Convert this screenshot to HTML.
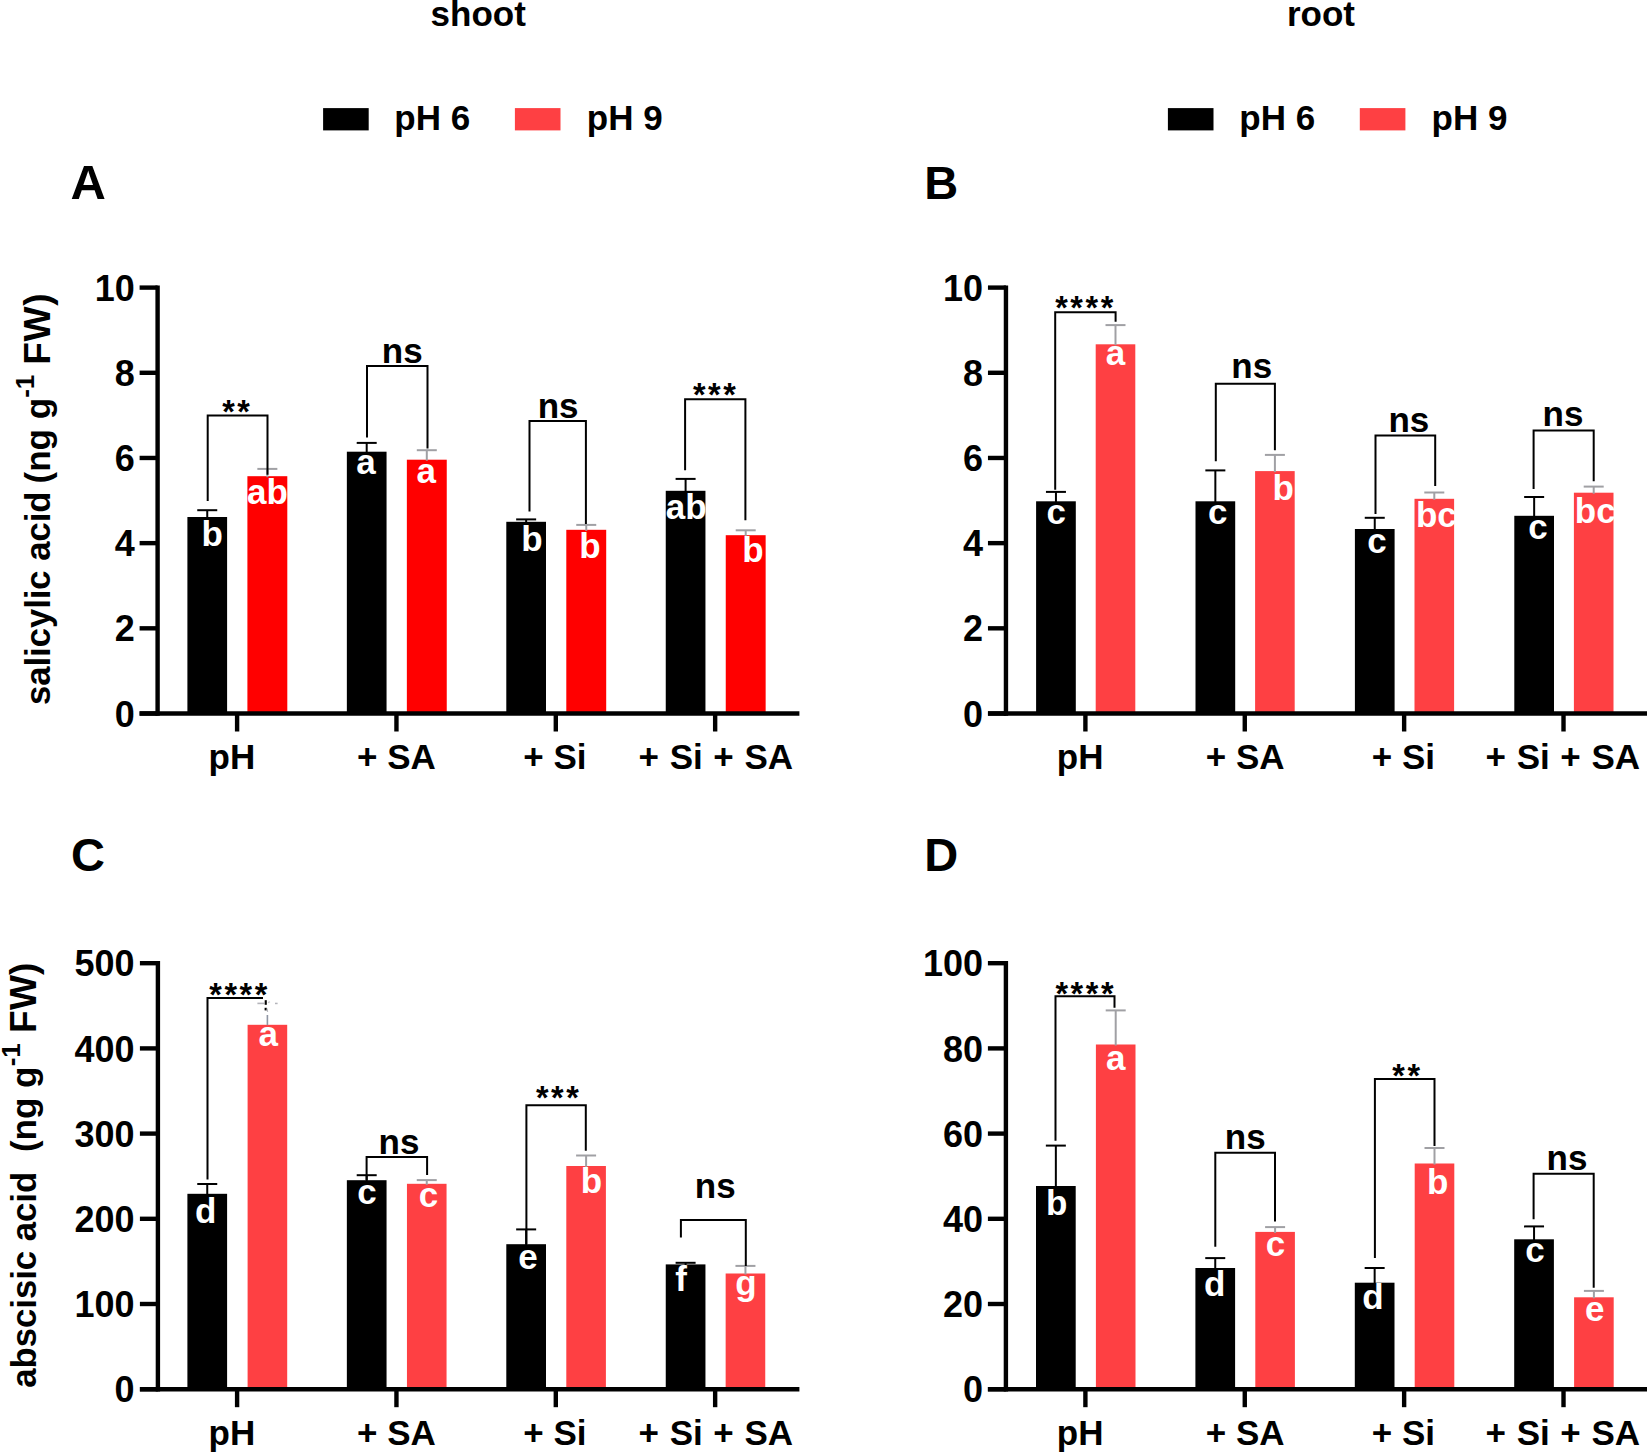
<!DOCTYPE html>
<html lang="en">
<head>
<meta charset="utf-8">
<title>Salicylic acid and abscisic acid in shoot and root</title>
<style>
html,body{margin:0;padding:0;background:#fff;}
body{width:1647px;height:1452px;overflow:hidden;}
svg{display:block;}
svg text{font-family:"Liberation Sans",sans-serif;font-weight:bold;}
</style>
</head>
<body>
<svg width="1647" height="1452" viewBox="0 0 1647 1452" shape-rendering="auto">
<rect x="0" y="0" width="1647" height="1452" fill="#fff"/>
<text x="478.20" y="26.20" font-size="35" fill="#000" text-anchor="middle">shoot</text>
<text x="1321.00" y="26.20" font-size="35" fill="#000" text-anchor="middle">root</text>
<rect x="323.10" y="108.10" width="45.60" height="22.30" fill="#000"/>
<rect x="514.90" y="108.10" width="45.60" height="22.30" fill="#FE4043"/>
<text x="432.30" y="129.90" font-size="35" fill="#000" text-anchor="middle">pH 6</text>
<text x="624.70" y="129.90" font-size="35" fill="#000" text-anchor="middle">pH 9</text>
<rect x="1167.90" y="108.10" width="45.60" height="22.30" fill="#000"/>
<rect x="1359.80" y="108.10" width="45.60" height="22.30" fill="#FE4043"/>
<text x="1277.20" y="129.90" font-size="35" fill="#000" text-anchor="middle">pH 6</text>
<text x="1469.50" y="129.90" font-size="35" fill="#000" text-anchor="middle">pH 9</text>
<text x="88.20" y="198.50" font-size="49" fill="#000" text-anchor="middle">A</text>
<text x="941.30" y="198.50" font-size="47" fill="#000" text-anchor="middle">B</text>
<text x="88.00" y="871.30" font-size="47" fill="#000" text-anchor="middle">C</text>
<text x="941.30" y="871.30" font-size="47" fill="#000" text-anchor="middle">D</text>
<text transform="translate(49.60,704.00) rotate(-90)" y="0" text-anchor="start"><tspan x="-1.00" dy="0.00" font-size="34.6">salicylic acid</tspan> <tspan x="220.50" dy="0.00" font-size="35">(ng g</tspan><tspan x="306.20" dy="-16.10" font-size="26">-1</tspan> <tspan x="339.30" dy="16.10" font-size="37" letter-spacing="0.7">FW)</tspan></text>
<text transform="translate(35.90,1386.80) rotate(-90)" y="0" text-anchor="start"><tspan x="-1.00" dy="0.00" font-size="34.7">abscisic acid</tspan> <tspan x="234.70" dy="0.00" font-size="35">(ng g</tspan><tspan x="320.50" dy="-15.90" font-size="26">-1</tspan> <tspan x="353.80" dy="15.90" font-size="37" letter-spacing="0.3">FW)</tspan></text>
<rect x="187.40" y="517.00" width="39.70" height="196.50" fill="#000"/>
<rect x="247.40" y="476.20" width="39.90" height="237.30" fill="#FF0000"/>
<rect x="346.85" y="451.70" width="39.70" height="261.80" fill="#000"/>
<rect x="406.85" y="459.70" width="39.90" height="253.80" fill="#FF0000"/>
<rect x="506.30" y="521.80" width="39.70" height="191.70" fill="#000"/>
<rect x="566.30" y="529.80" width="39.90" height="183.70" fill="#FF0000"/>
<rect x="665.75" y="490.80" width="39.70" height="222.70" fill="#000"/>
<rect x="725.75" y="535.20" width="39.90" height="178.30" fill="#FF0000"/>
<line x1="157.60" y1="285.40" x2="157.60" y2="715.70" stroke="#000" stroke-width="4.4"/>
<line x1="139.60" y1="713.50" x2="799.40" y2="713.50" stroke="#000" stroke-width="4.4"/>
<line x1="139.60" y1="713.50" x2="157.60" y2="713.50" stroke="#000" stroke-width="4.4"/>
<text x="134.70" y="726.60" font-size="36" fill="#000" text-anchor="end">0</text>
<line x1="139.60" y1="628.32" x2="157.60" y2="628.32" stroke="#000" stroke-width="4.4"/>
<text x="134.70" y="641.42" font-size="36" fill="#000" text-anchor="end">2</text>
<line x1="139.60" y1="543.14" x2="157.60" y2="543.14" stroke="#000" stroke-width="4.4"/>
<text x="134.70" y="556.24" font-size="36" fill="#000" text-anchor="end">4</text>
<line x1="139.60" y1="457.96" x2="157.60" y2="457.96" stroke="#000" stroke-width="4.4"/>
<text x="134.70" y="471.06" font-size="36" fill="#000" text-anchor="end">6</text>
<line x1="139.60" y1="372.78" x2="157.60" y2="372.78" stroke="#000" stroke-width="4.4"/>
<text x="134.70" y="385.88" font-size="36" fill="#000" text-anchor="end">8</text>
<line x1="139.60" y1="287.60" x2="157.60" y2="287.60" stroke="#000" stroke-width="4.4"/>
<text x="134.70" y="300.70" font-size="36" fill="#000" text-anchor="end">10</text>
<line x1="237.10" y1="713.50" x2="237.10" y2="731.50" stroke="#000" stroke-width="4.4"/>
<text x="231.90" y="768.70" font-size="35" fill="#000" text-anchor="middle">pH</text>
<line x1="396.45" y1="713.50" x2="396.45" y2="731.50" stroke="#000" stroke-width="4.4"/>
<text x="396.45" y="768.70" font-size="35" fill="#000" text-anchor="middle">+ SA</text>
<line x1="555.80" y1="713.50" x2="555.80" y2="731.50" stroke="#000" stroke-width="4.4"/>
<text x="554.90" y="768.70" font-size="35" fill="#000" text-anchor="middle">+ Si</text>
<line x1="715.15" y1="713.50" x2="715.15" y2="731.50" stroke="#000" stroke-width="4.4"/>
<text x="715.85" y="768.70" font-size="35" fill="#000" text-anchor="middle" style="word-spacing:0.9px">+ Si + SA</text>
<line x1="207.25" y1="510.20" x2="207.25" y2="518.00" stroke="#000" stroke-width="2.0"/>
<line x1="197.25" y1="510.20" x2="217.25" y2="510.20" stroke="#000" stroke-width="2.0"/>
<line x1="267.35" y1="468.90" x2="267.35" y2="477.20" stroke="#A0A0A4" stroke-width="2.0"/>
<line x1="257.35" y1="468.90" x2="277.35" y2="468.90" stroke="#A0A0A4" stroke-width="2.0"/>
<polyline points="207.70,501.10 207.70,415.50 267.50,415.50 267.50,474.70" fill="none" stroke="#000" stroke-width="2.0" stroke-linejoin="miter"/>
<text x="237.30" y="423.20" font-size="32.3" fill="#000" text-anchor="middle" letter-spacing="2.6">**</text>
<text x="212.30" y="545.80" font-size="35" fill="#fff" text-anchor="middle">b</text>
<text x="267.50" y="503.90" font-size="35" fill="#fff" text-anchor="middle">ab</text>
<line x1="366.70" y1="442.90" x2="366.70" y2="452.70" stroke="#000" stroke-width="2.0"/>
<line x1="356.70" y1="442.90" x2="376.70" y2="442.90" stroke="#000" stroke-width="2.0"/>
<line x1="426.80" y1="450.20" x2="426.80" y2="460.70" stroke="#A0A0A4" stroke-width="2.0"/>
<line x1="416.80" y1="450.20" x2="436.80" y2="450.20" stroke="#A0A0A4" stroke-width="2.0"/>
<polyline points="367.00,437.50 367.00,365.90 427.50,365.90 427.50,448.40" fill="none" stroke="#000" stroke-width="2.0" stroke-linejoin="miter"/>
<text x="402.30" y="363.30" font-size="35" fill="#000" text-anchor="middle">ns</text>
<text x="366.00" y="473.90" font-size="35" fill="#fff" text-anchor="middle">a</text>
<text x="426.20" y="482.90" font-size="35" fill="#fff" text-anchor="middle">a</text>
<line x1="526.15" y1="519.40" x2="526.15" y2="522.80" stroke="#000" stroke-width="2.0"/>
<line x1="516.15" y1="519.40" x2="536.15" y2="519.40" stroke="#000" stroke-width="2.0"/>
<line x1="586.25" y1="524.90" x2="586.25" y2="530.80" stroke="#A0A0A4" stroke-width="2.0"/>
<line x1="576.25" y1="524.90" x2="596.25" y2="524.90" stroke="#A0A0A4" stroke-width="2.0"/>
<polyline points="529.50,511.60 529.50,421.10 585.90,421.10 585.90,524.00" fill="none" stroke="#000" stroke-width="2.0" stroke-linejoin="miter"/>
<text x="558.10" y="418.30" font-size="35" fill="#000" text-anchor="middle">ns</text>
<text x="531.90" y="551.40" font-size="35" fill="#fff" text-anchor="middle">b</text>
<text x="589.90" y="557.60" font-size="35" fill="#fff" text-anchor="middle">b</text>
<line x1="685.60" y1="478.90" x2="685.60" y2="491.80" stroke="#000" stroke-width="2.0"/>
<line x1="675.60" y1="478.90" x2="695.60" y2="478.90" stroke="#000" stroke-width="2.0"/>
<line x1="745.70" y1="530.30" x2="745.70" y2="536.20" stroke="#A0A0A4" stroke-width="2.0"/>
<line x1="735.70" y1="530.30" x2="755.70" y2="530.30" stroke="#A0A0A4" stroke-width="2.0"/>
<polyline points="685.10,470.20 685.10,399.20 745.40,399.20 745.40,520.30" fill="none" stroke="#000" stroke-width="2.0" stroke-linejoin="miter"/>
<text x="715.70" y="405.90" font-size="32.3" fill="#000" text-anchor="middle" letter-spacing="2.6">***</text>
<text x="686.20" y="518.80" font-size="35" fill="#fff" text-anchor="middle">ab</text>
<text x="752.90" y="562.20" font-size="35" fill="#fff" text-anchor="middle">b</text>
<rect x="1036.10" y="501.30" width="39.70" height="212.20" fill="#000"/>
<rect x="1095.70" y="344.30" width="39.60" height="369.20" fill="#FE4043"/>
<rect x="1195.50" y="501.30" width="39.70" height="212.20" fill="#000"/>
<rect x="1255.10" y="471.10" width="39.60" height="242.40" fill="#FE4043"/>
<rect x="1354.90" y="529.00" width="39.70" height="184.50" fill="#000"/>
<rect x="1414.50" y="498.80" width="39.60" height="214.70" fill="#FE4043"/>
<rect x="1514.30" y="515.80" width="39.70" height="197.70" fill="#000"/>
<rect x="1573.90" y="492.70" width="39.60" height="220.80" fill="#FE4043"/>
<line x1="1005.95" y1="285.40" x2="1005.95" y2="715.70" stroke="#000" stroke-width="4.4"/>
<line x1="987.95" y1="713.50" x2="1660.00" y2="713.50" stroke="#000" stroke-width="4.4"/>
<line x1="987.95" y1="713.50" x2="1005.95" y2="713.50" stroke="#000" stroke-width="4.4"/>
<text x="983.00" y="726.60" font-size="36" fill="#000" text-anchor="end">0</text>
<line x1="987.95" y1="628.32" x2="1005.95" y2="628.32" stroke="#000" stroke-width="4.4"/>
<text x="983.00" y="641.42" font-size="36" fill="#000" text-anchor="end">2</text>
<line x1="987.95" y1="543.14" x2="1005.95" y2="543.14" stroke="#000" stroke-width="4.4"/>
<text x="983.00" y="556.24" font-size="36" fill="#000" text-anchor="end">4</text>
<line x1="987.95" y1="457.96" x2="1005.95" y2="457.96" stroke="#000" stroke-width="4.4"/>
<text x="983.00" y="471.06" font-size="36" fill="#000" text-anchor="end">6</text>
<line x1="987.95" y1="372.78" x2="1005.95" y2="372.78" stroke="#000" stroke-width="4.4"/>
<text x="983.00" y="385.88" font-size="36" fill="#000" text-anchor="end">8</text>
<line x1="987.95" y1="287.60" x2="1005.95" y2="287.60" stroke="#000" stroke-width="4.4"/>
<text x="983.00" y="300.70" font-size="36" fill="#000" text-anchor="end">10</text>
<line x1="1085.40" y1="713.50" x2="1085.40" y2="731.50" stroke="#000" stroke-width="4.4"/>
<text x="1080.20" y="768.70" font-size="35" fill="#000" text-anchor="middle">pH</text>
<line x1="1244.77" y1="713.50" x2="1244.77" y2="731.50" stroke="#000" stroke-width="4.4"/>
<text x="1245.17" y="768.70" font-size="35" fill="#000" text-anchor="middle">+ SA</text>
<line x1="1404.14" y1="713.50" x2="1404.14" y2="731.50" stroke="#000" stroke-width="4.4"/>
<text x="1403.44" y="768.70" font-size="35" fill="#000" text-anchor="middle">+ Si</text>
<line x1="1563.51" y1="713.50" x2="1563.51" y2="731.50" stroke="#000" stroke-width="4.4"/>
<text x="1562.81" y="768.70" font-size="35" fill="#000" text-anchor="middle" style="word-spacing:0.9px">+ Si + SA</text>
<line x1="1055.95" y1="491.90" x2="1055.95" y2="502.30" stroke="#000" stroke-width="2.0"/>
<line x1="1045.95" y1="491.90" x2="1065.95" y2="491.90" stroke="#000" stroke-width="2.0"/>
<line x1="1115.50" y1="325.10" x2="1115.50" y2="345.30" stroke="#A0A0A4" stroke-width="2.0"/>
<line x1="1105.50" y1="325.10" x2="1125.50" y2="325.10" stroke="#A0A0A4" stroke-width="2.0"/>
<polyline points="1055.20,489.70 1055.20,312.30 1115.60,312.30 1115.60,321.70" fill="none" stroke="#000" stroke-width="2.0" stroke-linejoin="miter"/>
<text x="1085.50" y="319.10" font-size="32.3" fill="#000" text-anchor="middle" letter-spacing="2.6">****</text>
<text x="1056.20" y="524.00" font-size="35" fill="#fff" text-anchor="middle">c</text>
<text x="1115.50" y="365.10" font-size="35" fill="#fff" text-anchor="middle">a</text>
<line x1="1215.35" y1="470.40" x2="1215.35" y2="502.30" stroke="#000" stroke-width="2.0"/>
<line x1="1205.35" y1="470.40" x2="1225.35" y2="470.40" stroke="#000" stroke-width="2.0"/>
<line x1="1274.90" y1="454.90" x2="1274.90" y2="472.10" stroke="#A0A0A4" stroke-width="2.0"/>
<line x1="1264.90" y1="454.90" x2="1284.90" y2="454.90" stroke="#A0A0A4" stroke-width="2.0"/>
<polyline points="1215.80,461.30 1215.80,383.70 1274.90,383.70 1274.90,450.30" fill="none" stroke="#000" stroke-width="2.0" stroke-linejoin="miter"/>
<text x="1251.80" y="377.80" font-size="35" fill="#000" text-anchor="middle">ns</text>
<text x="1217.80" y="524.00" font-size="35" fill="#fff" text-anchor="middle">c</text>
<text x="1283.20" y="499.50" font-size="35" fill="#fff" text-anchor="middle">b</text>
<line x1="1374.75" y1="517.80" x2="1374.75" y2="530.00" stroke="#000" stroke-width="2.0"/>
<line x1="1364.75" y1="517.80" x2="1384.75" y2="517.80" stroke="#000" stroke-width="2.0"/>
<line x1="1434.30" y1="492.50" x2="1434.30" y2="499.80" stroke="#A0A0A4" stroke-width="2.0"/>
<line x1="1424.30" y1="492.50" x2="1444.30" y2="492.50" stroke="#A0A0A4" stroke-width="2.0"/>
<polyline points="1375.50,514.10 1375.50,435.40 1435.20,435.40 1435.20,486.10" fill="none" stroke="#000" stroke-width="2.0" stroke-linejoin="miter"/>
<text x="1408.90" y="432.10" font-size="35" fill="#000" text-anchor="middle">ns</text>
<text x="1377.00" y="553.40" font-size="35" fill="#fff" text-anchor="middle">c</text>
<text x="1436.40" y="527.20" font-size="35" fill="#fff" text-anchor="middle">bc</text>
<line x1="1534.15" y1="497.00" x2="1534.15" y2="516.80" stroke="#000" stroke-width="2.0"/>
<line x1="1524.15" y1="497.00" x2="1544.15" y2="497.00" stroke="#000" stroke-width="2.0"/>
<line x1="1593.70" y1="486.60" x2="1593.70" y2="493.70" stroke="#A0A0A4" stroke-width="2.0"/>
<line x1="1583.70" y1="486.60" x2="1603.70" y2="486.60" stroke="#A0A0A4" stroke-width="2.0"/>
<polyline points="1533.60,489.00 1533.60,430.40 1593.70,430.40 1593.70,481.30" fill="none" stroke="#000" stroke-width="2.0" stroke-linejoin="miter"/>
<text x="1563.00" y="426.20" font-size="35" fill="#000" text-anchor="middle">ns</text>
<text x="1538.00" y="538.80" font-size="35" fill="#fff" text-anchor="middle">c</text>
<text x="1595.20" y="522.80" font-size="35" fill="#fff" text-anchor="middle">bc</text>
<rect x="187.40" y="1193.80" width="39.70" height="195.40" fill="#000"/>
<rect x="247.60" y="1024.80" width="39.60" height="364.40" fill="#FE4043"/>
<rect x="346.85" y="1180.20" width="39.70" height="209.00" fill="#000"/>
<rect x="406.95" y="1183.80" width="39.60" height="205.40" fill="#FE4043"/>
<rect x="506.30" y="1244.20" width="39.70" height="145.00" fill="#000"/>
<rect x="566.30" y="1166.00" width="39.60" height="223.20" fill="#FE4043"/>
<rect x="665.75" y="1264.40" width="39.70" height="124.80" fill="#000"/>
<rect x="725.65" y="1273.50" width="39.60" height="115.70" fill="#FE4043"/>
<line x1="157.90" y1="961.00" x2="157.90" y2="1391.40" stroke="#000" stroke-width="4.4"/>
<line x1="139.90" y1="1389.20" x2="799.40" y2="1389.20" stroke="#000" stroke-width="4.4"/>
<line x1="139.90" y1="1389.20" x2="157.90" y2="1389.20" stroke="#000" stroke-width="4.4"/>
<text x="134.60" y="1402.30" font-size="36" fill="#000" text-anchor="end">0</text>
<line x1="139.90" y1="1304.00" x2="157.90" y2="1304.00" stroke="#000" stroke-width="4.4"/>
<text x="134.60" y="1317.10" font-size="36" fill="#000" text-anchor="end">100</text>
<line x1="139.90" y1="1218.80" x2="157.90" y2="1218.80" stroke="#000" stroke-width="4.4"/>
<text x="134.60" y="1231.90" font-size="36" fill="#000" text-anchor="end">200</text>
<line x1="139.90" y1="1133.60" x2="157.90" y2="1133.60" stroke="#000" stroke-width="4.4"/>
<text x="134.60" y="1146.70" font-size="36" fill="#000" text-anchor="end">300</text>
<line x1="139.90" y1="1048.40" x2="157.90" y2="1048.40" stroke="#000" stroke-width="4.4"/>
<text x="134.60" y="1061.50" font-size="36" fill="#000" text-anchor="end">400</text>
<line x1="139.90" y1="963.20" x2="157.90" y2="963.20" stroke="#000" stroke-width="4.4"/>
<text x="134.60" y="976.30" font-size="36" fill="#000" text-anchor="end">500</text>
<line x1="237.10" y1="1389.20" x2="237.10" y2="1407.20" stroke="#000" stroke-width="4.4"/>
<text x="231.90" y="1444.60" font-size="35" fill="#000" text-anchor="middle">pH</text>
<line x1="396.45" y1="1389.20" x2="396.45" y2="1407.20" stroke="#000" stroke-width="4.4"/>
<text x="396.45" y="1444.60" font-size="35" fill="#000" text-anchor="middle">+ SA</text>
<line x1="555.80" y1="1389.20" x2="555.80" y2="1407.20" stroke="#000" stroke-width="4.4"/>
<text x="554.90" y="1444.60" font-size="35" fill="#000" text-anchor="middle">+ Si</text>
<line x1="715.15" y1="1389.20" x2="715.15" y2="1407.20" stroke="#000" stroke-width="4.4"/>
<text x="715.85" y="1444.60" font-size="35" fill="#000" text-anchor="middle" style="word-spacing:0.9px">+ Si + SA</text>
<line x1="207.25" y1="1184.00" x2="207.25" y2="1194.80" stroke="#000" stroke-width="2.0"/>
<line x1="197.25" y1="1184.00" x2="217.25" y2="1184.00" stroke="#000" stroke-width="2.0"/>
<line x1="257.40" y1="1003.40" x2="264.20" y2="1003.40" stroke="#B4B4BA" stroke-width="1.6"/>
<line x1="268.00" y1="1002.60" x2="270.00" y2="1001.80" stroke="#C8C8CC" stroke-width="1.2"/>
<rect x="264.70" y="1000.20" width="2.10" height="4.60" fill="#000"/>
<rect x="275.00" y="1002.70" width="2.60" height="1.50" fill="#B4B4BA"/>
<rect x="264.60" y="1007.80" width="2.20" height="2.60" fill="#000"/>
<line x1="267.00" y1="1008.50" x2="267.60" y2="1011.80" stroke="#B4B4BA" stroke-width="1.2"/>
<line x1="267.40" y1="1015.00" x2="267.40" y2="1025.20" stroke="#8F95A3" stroke-width="1.6"/>
<polyline points="207.50,1179.40 207.50,997.90 263.00,997.90 263.00,997.90" fill="none" stroke="#000" stroke-width="2.0" stroke-linejoin="miter"/>
<text x="239.60" y="1006.10" font-size="32.3" fill="#000" text-anchor="middle" letter-spacing="2.6">****</text>
<text x="205.70" y="1223.20" font-size="35" fill="#fff" text-anchor="middle">d</text>
<text x="268.20" y="1046.00" font-size="35" fill="#fff" text-anchor="middle">a</text>
<line x1="366.70" y1="1175.20" x2="366.70" y2="1181.20" stroke="#000" stroke-width="2.0"/>
<line x1="356.70" y1="1175.20" x2="376.70" y2="1175.20" stroke="#000" stroke-width="2.0"/>
<line x1="426.75" y1="1180.10" x2="426.75" y2="1184.80" stroke="#A0A0A4" stroke-width="2.0"/>
<line x1="416.75" y1="1180.10" x2="436.75" y2="1180.10" stroke="#A0A0A4" stroke-width="2.0"/>
<polyline points="366.60,1180.00 366.60,1156.90 427.10,1156.90 427.10,1175.10" fill="none" stroke="#000" stroke-width="2.0" stroke-linejoin="miter"/>
<text x="399.00" y="1154.00" font-size="35" fill="#000" text-anchor="middle">ns</text>
<text x="366.90" y="1203.50" font-size="35" fill="#fff" text-anchor="middle">c</text>
<text x="428.50" y="1206.80" font-size="35" fill="#fff" text-anchor="middle">c</text>
<line x1="526.15" y1="1229.40" x2="526.15" y2="1245.20" stroke="#000" stroke-width="2.0"/>
<line x1="516.15" y1="1229.40" x2="536.15" y2="1229.40" stroke="#000" stroke-width="2.0"/>
<line x1="586.10" y1="1155.50" x2="586.10" y2="1167.00" stroke="#A0A0A4" stroke-width="2.0"/>
<line x1="576.10" y1="1155.50" x2="596.10" y2="1155.50" stroke="#A0A0A4" stroke-width="2.0"/>
<polyline points="526.40,1244.00 526.40,1105.20 585.80,1105.20 585.80,1150.70" fill="none" stroke="#000" stroke-width="2.0" stroke-linejoin="miter"/>
<text x="558.70" y="1109.00" font-size="32.3" fill="#000" text-anchor="middle" letter-spacing="2.6">***</text>
<text x="528.00" y="1268.70" font-size="35" fill="#fff" text-anchor="middle">e</text>
<text x="591.50" y="1193.30" font-size="35" fill="#fff" text-anchor="middle">b</text>
<line x1="685.60" y1="1262.80" x2="685.60" y2="1265.40" stroke="#000" stroke-width="2.0"/>
<line x1="675.60" y1="1262.80" x2="695.60" y2="1262.80" stroke="#000" stroke-width="2.0"/>
<line x1="745.45" y1="1265.90" x2="745.45" y2="1274.50" stroke="#A0A0A4" stroke-width="2.0"/>
<line x1="735.45" y1="1265.90" x2="755.45" y2="1265.90" stroke="#A0A0A4" stroke-width="2.0"/>
<polyline points="680.90,1237.50 680.90,1220.00 745.80,1220.00 745.80,1265.90" fill="none" stroke="#000" stroke-width="2.0" stroke-linejoin="miter"/>
<text x="715.20" y="1198.10" font-size="35" fill="#000" text-anchor="middle">ns</text>
<text x="681.00" y="1290.60" font-size="35" fill="#fff" text-anchor="middle">f</text>
<text x="746.00" y="1295.00" font-size="35" fill="#fff" text-anchor="middle">g</text>
<rect x="1036.00" y="1186.00" width="39.70" height="203.20" fill="#000"/>
<rect x="1095.90" y="1044.50" width="39.60" height="344.70" fill="#FE4043"/>
<rect x="1195.40" y="1268.00" width="39.70" height="121.20" fill="#000"/>
<rect x="1255.30" y="1231.90" width="39.60" height="157.30" fill="#FE4043"/>
<rect x="1354.80" y="1282.70" width="39.70" height="106.50" fill="#000"/>
<rect x="1414.70" y="1163.50" width="39.60" height="225.70" fill="#FE4043"/>
<rect x="1514.20" y="1239.30" width="39.70" height="149.90" fill="#000"/>
<rect x="1574.10" y="1297.30" width="39.60" height="91.90" fill="#FE4043"/>
<line x1="1005.90" y1="961.00" x2="1005.90" y2="1391.40" stroke="#000" stroke-width="4.4"/>
<line x1="987.90" y1="1389.20" x2="1660.00" y2="1389.20" stroke="#000" stroke-width="4.4"/>
<line x1="987.90" y1="1389.20" x2="1005.90" y2="1389.20" stroke="#000" stroke-width="4.4"/>
<text x="983.00" y="1402.30" font-size="36" fill="#000" text-anchor="end">0</text>
<line x1="987.90" y1="1304.00" x2="1005.90" y2="1304.00" stroke="#000" stroke-width="4.4"/>
<text x="983.00" y="1317.10" font-size="36" fill="#000" text-anchor="end">20</text>
<line x1="987.90" y1="1218.80" x2="1005.90" y2="1218.80" stroke="#000" stroke-width="4.4"/>
<text x="983.00" y="1231.90" font-size="36" fill="#000" text-anchor="end">40</text>
<line x1="987.90" y1="1133.60" x2="1005.90" y2="1133.60" stroke="#000" stroke-width="4.4"/>
<text x="983.00" y="1146.70" font-size="36" fill="#000" text-anchor="end">60</text>
<line x1="987.90" y1="1048.40" x2="1005.90" y2="1048.40" stroke="#000" stroke-width="4.4"/>
<text x="983.00" y="1061.50" font-size="36" fill="#000" text-anchor="end">80</text>
<line x1="987.90" y1="963.20" x2="1005.90" y2="963.20" stroke="#000" stroke-width="4.4"/>
<text x="983.00" y="976.30" font-size="36" fill="#000" text-anchor="end">100</text>
<line x1="1085.40" y1="1389.20" x2="1085.40" y2="1407.20" stroke="#000" stroke-width="4.4"/>
<text x="1080.20" y="1444.60" font-size="35" fill="#000" text-anchor="middle">pH</text>
<line x1="1244.77" y1="1389.20" x2="1244.77" y2="1407.20" stroke="#000" stroke-width="4.4"/>
<text x="1245.17" y="1444.60" font-size="35" fill="#000" text-anchor="middle">+ SA</text>
<line x1="1404.14" y1="1389.20" x2="1404.14" y2="1407.20" stroke="#000" stroke-width="4.4"/>
<text x="1403.44" y="1444.60" font-size="35" fill="#000" text-anchor="middle">+ Si</text>
<line x1="1563.51" y1="1389.20" x2="1563.51" y2="1407.20" stroke="#000" stroke-width="4.4"/>
<text x="1562.81" y="1444.60" font-size="35" fill="#000" text-anchor="middle" style="word-spacing:0.9px">+ Si + SA</text>
<line x1="1055.85" y1="1145.60" x2="1055.85" y2="1187.00" stroke="#000" stroke-width="2.0"/>
<line x1="1045.85" y1="1145.60" x2="1065.85" y2="1145.60" stroke="#000" stroke-width="2.0"/>
<line x1="1115.70" y1="1010.40" x2="1115.70" y2="1045.50" stroke="#A0A0A4" stroke-width="2.0"/>
<line x1="1105.70" y1="1010.40" x2="1125.70" y2="1010.40" stroke="#A0A0A4" stroke-width="2.0"/>
<polyline points="1055.50,1140.80 1055.50,996.20 1114.50,996.20 1114.50,1007.80" fill="none" stroke="#000" stroke-width="2.0" stroke-linejoin="miter"/>
<text x="1085.80" y="1005.20" font-size="32.3" fill="#000" text-anchor="middle" letter-spacing="2.6">****</text>
<text x="1056.70" y="1215.10" font-size="35" fill="#fff" text-anchor="middle">b</text>
<text x="1115.70" y="1070.10" font-size="35" fill="#fff" text-anchor="middle">a</text>
<line x1="1215.25" y1="1258.10" x2="1215.25" y2="1269.00" stroke="#000" stroke-width="2.0"/>
<line x1="1205.25" y1="1258.10" x2="1225.25" y2="1258.10" stroke="#000" stroke-width="2.0"/>
<line x1="1275.10" y1="1227.10" x2="1275.10" y2="1232.90" stroke="#A0A0A4" stroke-width="2.0"/>
<line x1="1265.10" y1="1227.10" x2="1285.10" y2="1227.10" stroke="#A0A0A4" stroke-width="2.0"/>
<polyline points="1215.30,1246.80 1215.30,1152.80 1275.00,1152.80 1275.00,1221.60" fill="none" stroke="#000" stroke-width="2.0" stroke-linejoin="miter"/>
<text x="1245.30" y="1148.90" font-size="35" fill="#000" text-anchor="middle">ns</text>
<text x="1214.80" y="1296.00" font-size="35" fill="#fff" text-anchor="middle">d</text>
<text x="1275.50" y="1255.50" font-size="35" fill="#fff" text-anchor="middle">c</text>
<line x1="1374.65" y1="1268.00" x2="1374.65" y2="1283.70" stroke="#000" stroke-width="2.0"/>
<line x1="1364.65" y1="1268.00" x2="1384.65" y2="1268.00" stroke="#000" stroke-width="2.0"/>
<line x1="1434.50" y1="1148.00" x2="1434.50" y2="1164.50" stroke="#A0A0A4" stroke-width="2.0"/>
<line x1="1424.50" y1="1148.00" x2="1444.50" y2="1148.00" stroke="#A0A0A4" stroke-width="2.0"/>
<polyline points="1374.90,1257.90 1374.90,1078.90 1434.50,1078.90 1434.50,1146.00" fill="none" stroke="#000" stroke-width="2.0" stroke-linejoin="miter"/>
<text x="1407.50" y="1086.80" font-size="32.3" fill="#000" text-anchor="middle" letter-spacing="2.6">**</text>
<text x="1373.00" y="1309.00" font-size="35" fill="#fff" text-anchor="middle">d</text>
<text x="1437.60" y="1194.10" font-size="35" fill="#fff" text-anchor="middle">b</text>
<line x1="1534.05" y1="1226.40" x2="1534.05" y2="1240.30" stroke="#000" stroke-width="2.0"/>
<line x1="1524.05" y1="1226.40" x2="1544.05" y2="1226.40" stroke="#000" stroke-width="2.0"/>
<line x1="1593.90" y1="1290.90" x2="1593.90" y2="1298.30" stroke="#A0A0A4" stroke-width="2.0"/>
<line x1="1583.90" y1="1290.90" x2="1603.90" y2="1290.90" stroke="#A0A0A4" stroke-width="2.0"/>
<polyline points="1533.60,1219.20 1533.60,1173.80 1593.70,1173.80 1593.70,1287.70" fill="none" stroke="#000" stroke-width="2.0" stroke-linejoin="miter"/>
<text x="1567.00" y="1170.00" font-size="35" fill="#000" text-anchor="middle">ns</text>
<text x="1535.00" y="1261.90" font-size="35" fill="#fff" text-anchor="middle">c</text>
<text x="1594.70" y="1321.00" font-size="35" fill="#fff" text-anchor="middle">e</text>
</svg>
</body>
</html>
